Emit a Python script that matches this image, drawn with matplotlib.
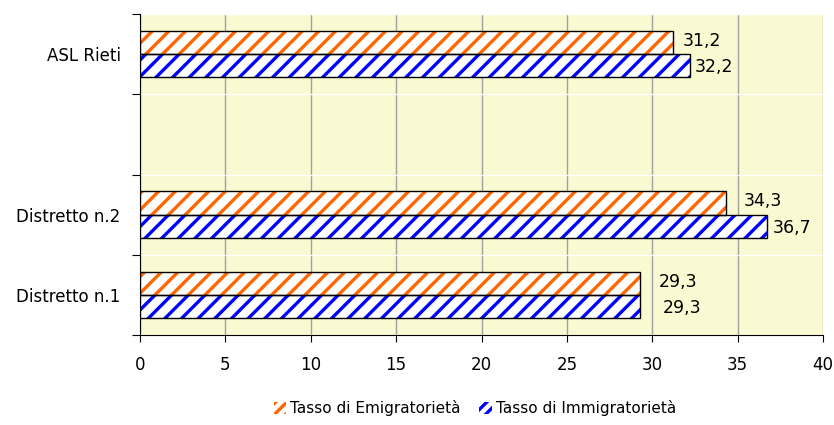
import numpy as np
import matplotlib.pyplot as plt
from matplotlib.patches import Patch

categorie = ["Distretto n.1", "Distretto n.2", "", "ASL Rieti"]
emigratorieta = [29.3, 34.3, np.nan, 31.2]
immigratorieta = [29.3, 36.7, np.nan, 32.2]
etichette_emi = ["29,3", "34,3", "", "31,2"]
etichette_imm = ["29,3", "36,7", "", "32,2"]

arancio = "#FF6600"
blu = "#0000FF"
sfondo = "#FAFAD2"

plt.rcParams["font.family"] = "DejaVu Sans"
plt.rcParams["font.size"] = 11
plt.rcParams["hatch.linewidth"] = 2.4

fig = plt.figure(figsize=(8.34, 4.25), dpi=100)
ax = fig.add_axes([0.1679, 0.2118, 0.8189, 0.7552])
ax.set_facecolor(sfondo)

y = np.arange(len(categorie))
h = 0.29


def barre(pos, valori, colore):
    # hatch drawn in the series colour, then a black outline on top
    ax.barh(pos, valori, height=h, color="white", edgecolor=colore,
            hatch="//", linewidth=0, zorder=3)
    ax.barh(pos, valori, height=h, fill=False, edgecolor="black",
            linewidth=1.0, zorder=4)


barre(y + h / 2, emigratorieta, arancio)
barre(y - h / 2, immigratorieta, blu)

# value labels
off_emi = [18, 18, 0, 10]
off_imm = [22, 6, 0, 5]
for i in range(len(categorie)):
    if etichette_emi[i]:
        ax.annotate(etichette_emi[i], (emigratorieta[i], y[i] + h / 2 + 0.02),
                    xytext=(off_emi[i] * 0.72, 0), textcoords="offset points",
                    ha="left", va="center", fontsize=12.5)
    if etichette_imm[i]:
        ax.annotate(etichette_imm[i], (immigratorieta[i], y[i] - h / 2 - 0.02),
                    xytext=(off_imm[i] * 0.72, 0), textcoords="offset points",
                    ha="left", va="center", fontsize=12.5)

ax.set_xlim(0, 40)
ax.set_ylim(-0.5, 3.5)
ax.set_xticks(np.arange(0, 41, 5))
ax.tick_params(axis="x", direction="out", length=5, pad=10, labelsize=12)

ax.set_yticks(np.arange(-0.5, 4, 1))
ax.set_yticklabels([])
ax.set_yticks(y, minor=True)
ax.set_yticklabels(categorie, minor=True)
ax.tick_params(axis="y", which="major", direction="out", length=6)
ax.tick_params(axis="y", which="minor", length=0, pad=14, labelsize=12)

ax.grid(axis="x", color="#A0A0A0", linewidth=1.0, zorder=1)
ax.grid(axis="y", which="major", color="white", linewidth=1.0, zorder=1)
ax.set_axisbelow(True)

ax.spines["top"].set_visible(False)
ax.spines["right"].set_visible(False)

handles = [
    Patch(facecolor="white", edgecolor=arancio, hatch="///", linewidth=0),
    Patch(facecolor="white", edgecolor=blu, hatch="///", linewidth=0),
]
leg = fig.legend(handles, ["Tasso di Emigratorietà", "Tasso di Immigratorietà"],
                 loc="center", bbox_to_anchor=(475 / 834, 1 - 408 / 425),
                 ncol=2, frameon=False, fontsize=11, handlelength=0.8,
                 handleheight=0.8, handletextpad=0.3, columnspacing=1.2)

fig.savefig("out.png", dpi=100)
